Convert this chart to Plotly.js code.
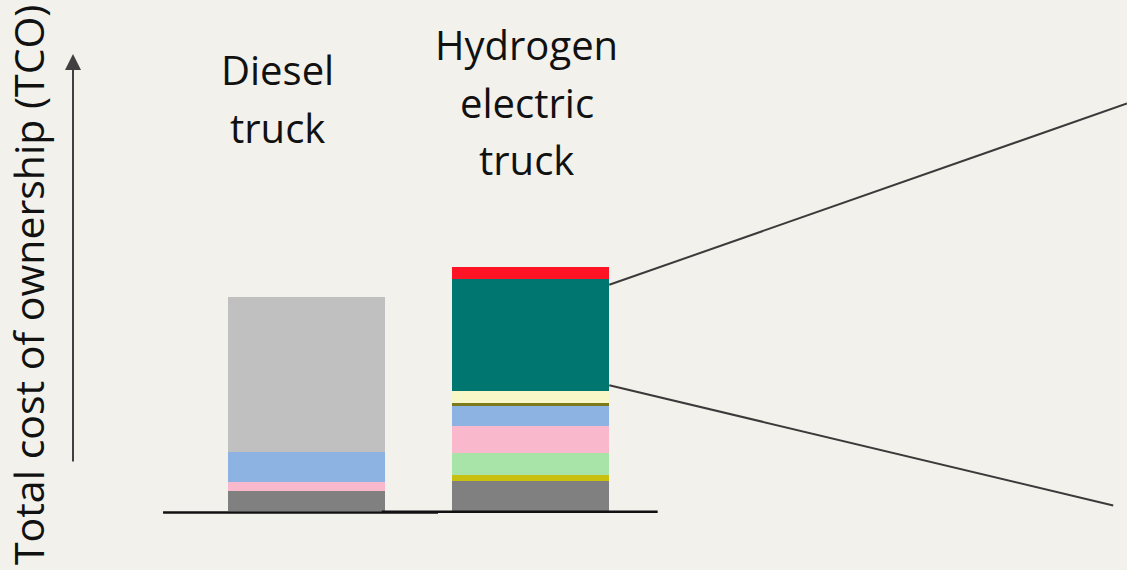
<!DOCTYPE html>
<html>
<head>
<meta charset="utf-8">
<script src="https://cdn.plot.ly/plotly-3.0.1.min.js"></script>
<style>html,body{margin:0;padding:0;background:#F2F1EC;}#chart{width:1127px;height:570px;}</style>
</head>
<body>
<div id="chart"></div>
<script>
// ---- data (relative TCO units) ----
const trucks = ["Diesel truck", "Hydrogen electric truck"];
const labelLines = [["Diesel", "truck"], ["Hydrogen", "electric", "truck"]];
const componentNames = ["Vehicle", "Drivetrain", "Fuel cell", "Maintenance", "Tolls & taxes", "Tank", "Battery", "Hydrogen fuel", "Other", "Diesel fuel"];
const componentColors = ["#808080", "#C8BF10", "#A8E4A8", "#F9B8CB", "#8DB3E2", "#7C7A1C", "#F8F7C8", "#007670", "#FF1426", "#C0C0C0"];
const dieselValues   = [20.5, 0, 0, 8.7, 29.6, 0, 0, 0, 0, 155.4];
const hydrogenValues = [29.8, 6.7, 21.7, 26.6, 20.7, 2.7, 11.6, 112.4, 12.0, 0];
const axisTitle = "Total cost of ownership (TCO)";

const xPos = [0, 1];
const barWidth = 0.7;

const traces = componentNames.map((name, i) => ({
  type: "bar",
  name: name,
  x: xPos,
  y: [dieselValues[i], hydrogenValues[i]],
  width: barWidth,
  marker: {color: componentColors[i], line: {width: 0}},
  hoverinfo: "name+y",
  showlegend: false
}));

// callout lines from the hydrogen fuel segment
const tealIdx = componentNames.indexOf("Hydrogen fuel");
let below = 0;
for (let i = 0; i < tealIdx; i++) below += hydrogenValues[i];
const tealTop = below + hydrogenValues[tealIdx];
const tealBottom = below;
const barRight = xPos[1] + barWidth / 2;

const fontFam = "'Open Sans', sans-serif";
const annotations = [];
const labelShift = [-29, -4];
const lineYs = [[442, 384], [467, 409, 352]];
labelLines.forEach((lines, k) => {
  lines.forEach((t, j) => {
    annotations.push({
      x: xPos[k], y: lineYs[k][j], xref: "x", yref: "y",
      text: t, showarrow: false, xshift: labelShift[k],
      font: {family: fontFam, size: 40, color: "#111111"},
      xanchor: "center", yanchor: "middle"
    });
  });
});
annotations.push({
  xref: "paper", yref: "y", x: 28 / 1127, y: 226,
  text: axisTitle, textangle: -90, showarrow: false,
  font: {family: fontFam, size: 41, color: "#111111"},
  xanchor: "center", yanchor: "middle"
});
annotations.push({
  xref: "paper", yref: "y", x: 73 / 1127, y: 457,
  text: "", showarrow: true, ax: 0, ay: 409,
  arrowhead: 2, arrowsize: 1.6, arrowwidth: 2, arrowcolor: "#404040", standoff: 0
});

const shapes = [
  {type: "line", xref: "x", yref: "y", x0: -0.641, x1: 0.586, y0: -1.5, y1: -1.5, line: {color: "#111111", width: 2.5}},
  {type: "line", xref: "x", yref: "y", x0: 0.335, x1: 1.566, y0: -0.8, y1: -0.8, line: {color: "#111111", width: 2.5}},
  {type: "line", xref: "x", yref: "y", x0: barRight, y0: tealTop - 6, x1: 3.6604, y1: 407.5, line: {color: "#3a3a3a", width: 2}},
  {type: "line", xref: "x", yref: "y", x0: barRight, y0: tealBottom + 6, x1: 3.599, y1: 5.5, line: {color: "#3a3a3a", width: 2}}
];

const layout = {
  width: 1127, height: 570,
  margin: {l: 0, r: 0, t: 0, b: 56, pad: 0},
  paper_bgcolor: "#F2F1EC", plot_bgcolor: "#F2F1EC",
  barmode: "stack",
  xaxis: {range: [-1.3686, 3.6604], visible: false, fixedrange: true},
  yaxis: {range: [-3, 511], visible: false, fixedrange: true},
  annotations: annotations,
  shapes: shapes,
  showlegend: false
};

Plotly.newPlot("chart", traces, layout, {displayModeBar: false, staticPlot: true});
</script>
</body>
</html>
